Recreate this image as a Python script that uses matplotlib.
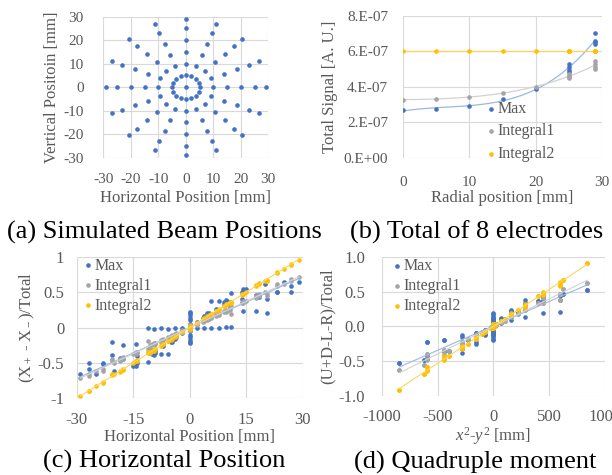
import numpy as np
import matplotlib
matplotlib.use("Agg")
import matplotlib.pyplot as plt

plt.rcParams["font.family"] = ["Liberation Serif", "DejaVu Serif"]
plt.rcParams["mathtext.fontset"] = "custom"
plt.rcParams["mathtext.rm"] = "Liberation Serif"
plt.rcParams["mathtext.it"] = "Liberation Serif:italic"
plt.rcParams["axes.unicode_minus"] = False

BLUE = "#4472C4"
GRAY = "#A5A5A5"
GOLD = "#FFC000"
TXT = "#595959"

# beam positions: a centre point plus 16 rays at these radii
radii = [5, 10, 15, 20, 25, 29]
angles = [0, 22.5, 45, 67.5, 90, 112.5, 135, 157.5,
          180, 202.5, 225, 247.5, 270, 292.5, 315, 337.5]

# (b) total signal vs radial position
total_r = [0, 5, 10, 15, 20, 25, 25, 25, 25, 29, 29, 29, 29]
total_max = [2.67e-7, 2.74e-7, 2.91e-7, 3.31e-7, 3.87e-7, 4.85e-7, 4.95e-7,
             5.10e-7, 5.25e-7, 6.40e-7, 6.50e-7, 6.60e-7, 7.05e-7]
total_int1 = [3.27e-7, 3.31e-7, 3.42e-7, 3.64e-7, 4.00e-7, 4.47e-7, 4.55e-7,
              4.62e-7, 4.70e-7, 5.00e-7, 5.10e-7, 5.30e-7, 5.45e-7]
total_int2 = [6.02e-7, 6.02e-7, 6.02e-7, 6.02e-7, 6.02e-7, 6.02e-7, 6.02e-7,
              6.02e-7, 6.02e-7, 6.02e-7, 6.02e-7, 6.02e-7, 6.02e-7]

# (c) horizontal position signal, one row per ray angle, columns = radii
hx_center = [0.0, 0.0, 0.0]
hx_max = [
    [0.20, 0.38, 0.55, 0.62, 0.65, 0.64],
    [0.20, 0.36, 0.50, 0.46, 0.50, 0.58],
    [0.14, 0.26, 0.36, 0.54, 0.46, 0.40],
    [0.08, 0.16, 0.38, 0.38, 0.39, 0.49],
    [0.05, 0.10, 0.14, 0.18, 0.20, 0.22],
    [-0.01, 0.00, -0.02, -0.01, -0.02, -0.01],
    [-0.12, -0.22, -0.30, -0.24, -0.25, -0.21],
    [-0.17, -0.33, -0.40, -0.43, -0.50, -0.50],
    [-0.20, -0.38, -0.55, -0.62, -0.65, -0.65],
    [-0.20, -0.36, -0.50, -0.46, -0.52, -0.59],
    [-0.14, -0.26, -0.36, -0.54, -0.44, -0.39],
    [-0.08, -0.16, -0.38, -0.38, -0.39, -0.49],
    [-0.05, -0.10, -0.14, -0.18, -0.20, -0.22],
    [0.00, -0.01, 0.00, -0.01, 0.01, 0.01],
    [0.12, 0.22, 0.30, 0.24, 0.24, 0.21],
    [0.17, 0.33, 0.40, 0.43, 0.50, 0.50],
]
hx_int1 = [
    [0.12, 0.24, 0.37, 0.50, 0.62, 0.72],
    [0.11, 0.22, 0.34, 0.45, 0.58, 0.66],
    [0.08, 0.16, 0.25, 0.34, 0.42, 0.44],
    [0.05, 0.09, 0.15, 0.20, 0.25, 0.30],
    [0.01, 0.02, 0.02, 0.03, 0.03, 0.04],
    [-0.04, -0.09, -0.13, -0.18, -0.22, -0.19],
    [-0.09, -0.18, -0.27, -0.37, -0.45, -0.48],
    [-0.12, -0.24, -0.36, -0.48, -0.62, -0.68],
    [-0.12, -0.24, -0.37, -0.50, -0.62, -0.72],
    [-0.11, -0.22, -0.34, -0.45, -0.58, -0.66],
    [-0.08, -0.16, -0.25, -0.34, -0.42, -0.44],
    [-0.05, -0.09, -0.15, -0.20, -0.25, -0.30],
    [-0.01, -0.02, -0.02, -0.03, -0.03, -0.04],
    [0.04, 0.09, 0.13, 0.18, 0.22, 0.19],
    [0.09, 0.18, 0.27, 0.37, 0.45, 0.48],
    [0.12, 0.24, 0.36, 0.48, 0.62, 0.68],
]
hx_int2 = [
    [0.17, 0.33, 0.50, 0.66, 0.83, 0.96],
    [0.15, 0.30, 0.46, 0.62, 0.77, 0.89],
    [0.12, 0.24, 0.36, 0.48, 0.60, 0.66],
    [0.06, 0.13, 0.19, 0.26, 0.33, 0.35],
    [0.00, 0.01, 0.01, 0.01, 0.02, 0.02],
    [-0.06, -0.12, -0.19, -0.25, -0.32, -0.36],
    [-0.12, -0.24, -0.35, -0.47, -0.59, -0.67],
    [-0.16, -0.31, -0.47, -0.63, -0.78, -0.90],
    [-0.17, -0.33, -0.50, -0.66, -0.83, -0.97],
    [-0.15, -0.30, -0.46, -0.62, -0.77, -0.89],
    [-0.12, -0.24, -0.36, -0.48, -0.60, -0.66],
    [-0.06, -0.13, -0.19, -0.26, -0.33, -0.35],
    [0.00, -0.01, -0.01, -0.01, -0.02, -0.02],
    [0.06, 0.12, 0.19, 0.25, 0.32, 0.36],
    [0.12, 0.24, 0.35, 0.47, 0.59, 0.67],
    [0.16, 0.31, 0.47, 0.63, 0.78, 0.90],
]

# (d) quadrupole moment signal, same layout
qd_center = [0.0, 0.0, 0.0]
qd_max = [
    [0.03, 0.10, 0.20, 0.36, 0.47, 0.52],
    [0.02, 0.05, 0.09, 0.13, 0.19, 0.21],
    [0.04, 0.08, 0.12, 0.15, 0.18, 0.19],
    [-0.02, -0.05, -0.10, -0.15, -0.19, -0.22],
    [-0.03, -0.10, -0.20, -0.36, -0.48, -0.53],
    [-0.03, -0.12, -0.26, -0.38, -0.36, -0.43],
    [-0.02, -0.05, -0.08, -0.10, -0.11, -0.12],
    [0.03, 0.12, 0.24, 0.38, 0.42, 0.43],
    [0.03, 0.10, 0.20, 0.36, 0.47, 0.52],
    [0.03, 0.11, 0.22, 0.33, 0.36, 0.47],
    [0.02, 0.05, 0.08, 0.10, 0.11, 0.12],
    [-0.03, -0.11, -0.22, -0.33, -0.36, -0.47],
    [-0.03, -0.10, -0.20, -0.36, -0.48, -0.53],
    [-0.02, -0.05, -0.09, -0.13, -0.19, -0.22],
    [-0.04, -0.08, -0.12, -0.15, -0.18, -0.19],
    [0.03, 0.10, 0.20, 0.30, 0.38, 0.38],
]
qd_int1 = [
    [0.02, 0.08, 0.18, 0.34, 0.53, 0.62],
    [0.01, 0.06, 0.14, 0.23, 0.34, 0.38],
    [0.01, 0.01, 0.02, 0.02, 0.03, 0.03],
    [-0.01, -0.06, -0.14, -0.22, -0.34, -0.39],
    [-0.02, -0.08, -0.18, -0.35, -0.55, -0.63],
    [-0.02, -0.07, -0.17, -0.26, -0.40, -0.48],
    [-0.01, -0.01, -0.02, -0.02, -0.03, -0.03],
    [0.02, 0.07, 0.17, 0.26, 0.40, 0.47],
    [0.02, 0.08, 0.18, 0.34, 0.53, 0.62],
    [0.02, 0.07, 0.16, 0.25, 0.42, 0.47],
    [0.01, 0.01, 0.02, 0.02, 0.03, 0.03],
    [-0.02, -0.07, -0.16, -0.25, -0.42, -0.47],
    [-0.02, -0.08, -0.18, -0.35, -0.55, -0.63],
    [-0.01, -0.06, -0.14, -0.22, -0.34, -0.39],
    [-0.01, -0.01, -0.02, -0.02, -0.03, -0.03],
    [0.01, 0.06, 0.14, 0.23, 0.34, 0.38],
]
qd_int2 = [
    [0.03, 0.11, 0.24, 0.43, 0.67, 0.91],
    [0.02, 0.07, 0.16, 0.28, 0.45, 0.58],
    [0.01, 0.01, 0.02, 0.02, 0.03, 0.03],
    [-0.02, -0.07, -0.16, -0.29, -0.43, -0.59],
    [-0.03, -0.11, -0.25, -0.43, -0.68, -0.92],
    [-0.02, -0.08, -0.18, -0.33, -0.48, -0.64],
    [-0.01, -0.01, -0.02, -0.02, -0.03, -0.03],
    [0.02, 0.08, 0.19, 0.32, 0.49, 0.63],
    [0.03, 0.11, 0.24, 0.43, 0.67, 0.91],
    [0.02, 0.08, 0.18, 0.31, 0.47, 0.62],
    [-0.01, 0.01, 0.02, 0.02, 0.03, 0.03],
    [-0.02, -0.08, -0.18, -0.31, -0.47, -0.62],
    [-0.03, -0.11, -0.25, -0.43, -0.68, -0.92],
    [-0.02, -0.07, -0.16, -0.28, -0.45, -0.58],
    [-0.01, -0.01, -0.02, -0.02, -0.03, -0.03],
    [0.02, 0.07, 0.17, 0.27, 0.46, 0.60],
]

series_names = ["Max", "Integral1", "Integral2"]
series_colors = [BLUE, GRAY, GOLD]
trend_colors = ["#9DB7E4", "#D2D2D2", "#FFD45C"]

LEG = dict(frameon=False, fontsize=11.5, handlelength=0.6, handletextpad=0.1,
           borderpad=0.1, borderaxespad=0, labelcolor=TXT)


def style_axes(ax, tick_size):
    for s in ax.spines.values():
        s.set_visible(False)
    ax.grid(True, color="#D9D9D9", lw=0.8)
    ax.set_axisbelow(True)
    ax.tick_params(length=0, colors=TXT, labelsize=tick_size)


def flat(center, rows):
    return np.array([center] + [v for row in rows for v in row])


# beam positions from the polar grid
rr, aa = np.meshgrid(radii, np.deg2rad(angles))
beam_x = np.concatenate([[0.0], (rr * np.cos(aa)).ravel()])
beam_y = np.concatenate([[0.0], (rr * np.sin(aa)).ravel()])

fig = plt.figure(figsize=(6.12, 4.75), dpi=100)

# (a) simulated beam positions
ax = fig.add_axes([0.1688, 0.668, 0.2696, 0.2968])
style_axes(ax, 11)
ax.scatter(beam_x, beam_y, s=11, color=BLUE, lw=0, zorder=3)
ax.set_xlim(-30, 30)
ax.set_ylim(-30, 30)
ax.set_xticks([-30, -20, -10, 0, 10, 20, 30])
ax.set_yticks([-30, -20, -10, 0, 10, 20, 30])
ax.tick_params(axis="y", pad=14)
ax.tick_params(axis="x", pad=11)
ax.set_xlabel("Horizontal Position [mm]", color=TXT, fontsize=12, va="center")
ax.set_ylabel("Vertical Positoin [mm]", color=TXT, fontsize=12, va="center")
ax.xaxis.set_label_coords(0.5, -0.285)
ax.yaxis.set_label_coords(-0.31, 0.5)

# (b) total of 8 electrodes
ax = fig.add_axes([0.659, 0.668, 0.3242, 0.299])
style_axes(ax, 11)
rfit = np.linspace(0, 29, 100)
for vals, name, c, tc in zip([total_max, total_int1, total_int2], series_names,
                             series_colors, trend_colors):
    ax.scatter(total_r, vals, s=11, color=c, lw=0, zorder=3, label=name)
    p = np.polyfit(total_r, vals, 3)
    ax.plot(rfit, np.polyval(p, rfit), color=tc, lw=0.9, zorder=2)
ax.set_xlim(0, 30)
ax.set_ylim(0, 8e-7)
ax.set_xticks([0, 10, 20, 30])
ax.set_yticks([0, 2e-7, 4e-7, 6e-7, 8e-7],
              ["0.E+00", "2.E-07", "4.E-07", "6.E-07", "8.E-07"])
ax.tick_params(axis="y", pad=11)
ax.tick_params(axis="x", pad=13)
ax.set_xlabel("Radial position [mm]", color=TXT, fontsize=12, va="center")
ax.set_ylabel("Total Signal [A. U.]", color=TXT, fontsize=12, va="center")
ax.xaxis.set_label_coords(0.5, -0.285)
ax.yaxis.set_label_coords(-0.37, 0.5)
ax.legend(loc="upper left", bbox_to_anchor=(0.41, 0.41), labelspacing=0.4, **LEG)

# (c) horizontal position
ax = fig.add_axes([0.1253, 0.1615, 0.3693, 0.298])
style_axes(ax, 12)
for vals, name, c, tc in zip([hx_max, hx_int1, hx_int2], series_names,
                             series_colors, trend_colors):
    yv = flat(hx_center[series_names.index(name)], vals)
    ax.scatter(beam_x, yv, s=11, color=c, lw=0, zorder=3, label=name)
    p = np.polyfit(beam_x, yv, 1)
    xl = np.array([beam_x.min(), beam_x.max()])
    ax.plot(xl, np.polyval(p, xl), color=tc, lw=0.8, zorder=4)
ax.set_xlim(-30, 30)
ax.set_ylim(-1, 1)
ax.set_xticks([-30, -15, 0, 15, 30])
ax.set_yticks([-1, -0.5, 0, 0.5, 1], ["-1", "-0.5", "0", "0.5", "1"])
ax.tick_params(axis="y", pad=9)
ax.tick_params(axis="x", pad=10)
ax.set_xlabel("Horizontal Position [mm]", color=TXT, fontsize=12, va="center")
ax.set_ylabel("(X$_+$ - X$_-$)/Total", color=TXT, fontsize=12, va="center")
ax.xaxis.set_label_coords(0.5, -0.275)
ax.yaxis.set_label_coords(-0.22, 0.5)
ax.legend(loc="upper left", bbox_to_anchor=(0.023, 1.005), labelspacing=0.25, **LEG)

# (d) quadrupole moment
qd_x = beam_x ** 2 - beam_y ** 2
ax = fig.add_axes([0.6237, 0.1663, 0.3649, 0.2933])
style_axes(ax, 12)
for vals, name, c, tc in zip([qd_max, qd_int1, qd_int2], series_names,
                             series_colors, trend_colors):
    yv = flat(qd_center[series_names.index(name)], vals)
    ax.scatter(qd_x, yv, s=11, color=c, lw=0, zorder=3, label=name)
    p = np.polyfit(qd_x, yv, 1)
    xl = np.array([qd_x.min(), qd_x.max()])
    ax.plot(xl, np.polyval(p, xl), color=tc, lw=0.8, zorder=4)
ax.set_xlim(-1000, 1000)
ax.set_ylim(-1, 1)
ax.set_xticks([-1000, -500, 0, 500, 1000])
ax.set_yticks([-1, -0.5, 0, 0.5, 1], ["-1.0", "-0.5", "0.0", "0.5", "1.0"])
ax.tick_params(axis="y", pad=12)
ax.tick_params(axis="x", pad=9)
ax.set_xlabel("$x^2$-$y^2$ [mm]", color=TXT, fontsize=12, va="center")
ax.set_ylabel("(U+D-L-R)/Total", color=TXT, fontsize=12, va="center")
ax.xaxis.set_label_coords(0.5, -0.29)
ax.yaxis.set_label_coords(-0.24, 0.5)
ax.legend(loc="upper left", bbox_to_anchor=(0.04, 1.0), labelspacing=0.25, **LEG)

# captions
fig.text(164 / 612, 1 - 232 / 475, "(a) Simulated Beam Positions",
         fontsize=19, ha="center", va="center")
fig.text(477 / 612, 1 - 232 / 475, "(b) Total of 8 electrodes",
         fontsize=19, ha="center", va="center")
fig.text(164 / 612, 1 - 461 / 475, "(c) Horizontal Position",
         fontsize=19, ha="center", va="center")
fig.text(475 / 612, 1 - 462 / 475, "(d) Quadruple moment",
         fontsize=19, ha="center", va="center")

fig.savefig("out.png", dpi=100)
